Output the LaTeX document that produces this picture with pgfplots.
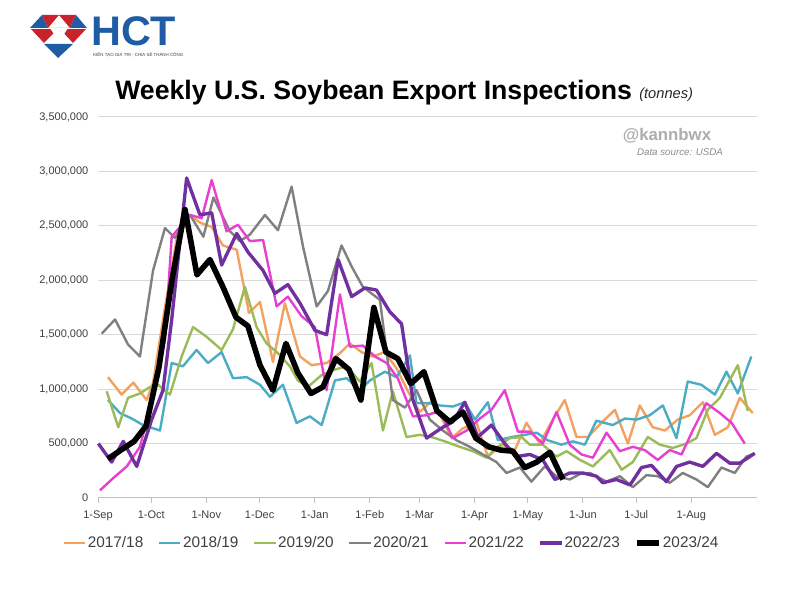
\documentclass[border=0pt]{standalone}
\usepackage{fontspec}
\setmainfont{Liberation Sans}
\usepackage{pgfplots}
\pgfplotsset{compat=1.18}
\definecolor{c17}{HTML}{F2A15F}
\definecolor{c18}{HTML}{4BACC6}
\definecolor{c19}{HTML}{9BBB59}
\definecolor{c20}{HTML}{808080}
\definecolor{c21}{HTML}{E83FD0}
\definecolor{c22}{HTML}{7030A0}
\definecolor{gridgray}{HTML}{D9D9D9}
\definecolor{axisgray}{HTML}{BFBFBF}
\definecolor{tickgray}{HTML}{404040}
\definecolor{logoRed}{HTML}{C8232C}
\definecolor{logoBlue}{HTML}{1F5CA6}
\begin{document}
\begin{tikzpicture}
\fill[white] (0,0) rectangle (600pt,450pt);
\begin{scope}[x=0.75pt,y=-0.75pt,yshift=450pt]
% logo
\fill[logoBlue] (30,28) -- (42,15) -- (48,28) -- cycle;
\fill[logoRed] (42,15) -- (59,15) -- (48,28) -- cycle;
\fill[logoRed] (59,15) -- (76,15) -- (70,28) -- cycle;
\fill[logoBlue] (76,15) -- (87,28) -- (70,28) -- cycle;
\fill[logoRed] (30,28) -- (59,28) -- (44,43) -- cycle;
\fill[logoRed] (59,28) -- (87,28) -- (73,43) -- cycle;
\fill[white] (50,28) -- (68,28) -- (59,42) -- cycle;
\fill[logoBlue] (44,44) -- (73,44) -- (58,58) -- cycle;
\draw[white, line width=0.5pt] (30,28) -- (87,28);
\node[anchor=base west, inner sep=0, text depth=0pt, text=logoBlue, font=\fontsize{31}{32}\selectfont\bfseries] at (91,46) {HCT};
\node[anchor=base west, inner sep=0, text=tickgray, font=\fontsize{3.3}{4}\selectfont] at (93,57) {KIẾN TẠO GIÁ TRỊ - CHIA SẺ THÀNH CÔNG};
% titles
\node[anchor=base west, inner sep=0, font=\fontsize{20}{24}\selectfont\bfseries] at (115,100) {Weekly U.S. Soybean Export Inspections};
\node[anchor=base west, inner sep=0, text=black!85, font=\fontsize{11}{13}\selectfont\itshape] at (639,99) {(tonnes)};
\node[inner sep=0, text=black!32, font=\fontsize{12.6}{14}\selectfont\bfseries] at (667,136) {@kannbwx};
\node[inner sep=0, text=black!45, font=\fontsize{7.3}{9}\selectfont\itshape] at (680,152) {Data source: USDA};
\end{scope}
\begin{axis}[
  at={(73.5pt,76.5pt)}, anchor=south west,
  scale only axis, width=494.25pt, height=285.75pt,
  xmin=0, xmax=371, ymin=0, ymax=3500000,
  axis x line*=bottom, axis y line*=left,
  x axis line style={draw=axisgray, line width=0.75pt},
  y axis line style={draw=none},
  ytick={0,500000,1000000,1500000,2000000,2500000,3000000,3500000},
  scaled y ticks=false,
  /pgf/number format/fixed,
  /pgf/number format/1000 sep={,},
  /pgf/number format/assume math mode=true,
  yticklabel style={font=\fontsize{8.25}{10}\selectfont, text=tickgray},
  ymajorgrids, grid style={draw=gridgray, line width=0.75pt},
  ytick style={draw=none},
  xtick={0,30,61,91,122,153,181,212,242,273,303,334},
  xticklabels={1-Sep,1-Oct,1-Nov,1-Dec,1-Jan,1-Feb,1-Mar,1-Apr,1-May,1-Jun,1-Jul,1-Aug},
  xticklabel style={font=\fontsize{8.25}{10}\selectfont, text=tickgray, yshift=-2pt, text height=6pt, text depth=1.8pt},
  xtick style={draw=axisgray, line width=0.75pt},
  tick align=outside, major tick length=3.75pt,
  clip=false,
  legend columns=7,
  legend style={at={(0.445,-0.118)}, anchor=center, draw=none, fill=none,
    font=\fontsize{11.5}{14}\selectfont, text=tickgray,
    /tikz/every even column/.append style={column sep=10pt},
    nodes={inner xsep=1pt}},
  legend image code/.code={\draw[#1, line cap=butt] (0pt,0pt) -- (16pt,0pt);},
  every axis plot/.append style={line join=round, mark=none},
]
\addplot[c17, line width=1.8pt] coordinates {(5.6,1110000)(13.3,950000)(19.9,1060000)(27.4,900000)(31.0,1060000)(37.7,1750000)(45.0,2450000)(51.8,2600000)(57.4,2530000)(64.0,2490000)(70.3,2320000)(78.1,2280000)(85.0,1700000)(91.2,1800000)(98.5,1250000)(105.2,1790000)(113.7,1300000)(120.3,1220000)(128.7,1240000)(136.2,1330000)(141.8,1420000)(148.4,1340000)(154.8,1300000)(161.5,1340000)(168.1,1190000)(174.5,980000)(181.2,790000)(188.5,900000)(199.1,550000)(205.4,640000)(213.1,690000)(219.5,380000)(227.2,490000)(234.7,440000)(241.2,690000)(248.7,500000)(256.0,720000)(262.8,900000)(269.4,560000)(275.8,560000)(283.4,690000)(291.0,810000)(298.3,500000)(305.0,850000)(312.3,650000)(319.1,620000)(326.4,720000)(333.1,760000)(340.5,880000)(347.3,580000)(354.6,650000)(361.3,920000)(368.6,780000)};
\addlegendentry{2017/18}
\addplot[c18, line width=1.8pt] coordinates {(5.6,900000)(12.4,780000)(19.0,730000)(25.3,670000)(31.0,640000)(34.9,620000)(41.5,1240000)(47.8,1210000)(55.5,1360000)(61.9,1240000)(69.6,1340000)(76.0,1100000)(83.7,1110000)(91.2,1040000)(96.8,930000)(104.1,1040000)(111.8,690000)(119.3,750000)(125.9,670000)(133.4,1080000)(140.0,1100000)(147.4,990000)(153.1,1080000)(161.5,1160000)(168.1,1110000)(175.6,1310000)(179.3,870000)(186.8,870000)(192.5,850000)(199.8,840000)(206.5,880000)(212.2,720000)(219.5,880000)(225.1,530000)(232.8,560000)(240.3,580000)(246.9,600000)(253.2,530000)(260.9,490000)(267.3,520000)(274.1,490000)(280.6,710000)(289.8,670000)(296.6,730000)(303.2,720000)(310.6,760000)(318.0,850000)(325.7,550000)(332.0,1070000)(339.7,1040000)(347.3,950000)(353.8,1160000)(360.2,960000)(367.8,1300000)};
\addlegendentry{2018/19}
\addplot[c19, line width=1.8pt] coordinates {(4.9,980000)(11.4,650000)(16.9,920000)(23.6,960000)(29.3,1020000)(33.8,1040000)(40.5,950000)(47.1,1300000)(53.5,1570000)(61.2,1480000)(69.6,1360000)(76.0,1550000)(82.7,1940000)(89.3,1570000)(94.9,1420000)(101.3,1330000)(108.0,1210000)(112.5,1080000)(118.2,1020000)(125.9,1130000)(133.4,1180000)(140.0,1210000)(147.4,1070000)(154.0,1240000)(160.4,620000)(166.0,980000)(173.7,560000)(181.2,580000)(187.8,560000)(195.3,520000)(203.7,470000)(211.0,430000)(218.8,370000)(224.3,460000)(231.9,550000)(238.4,560000)(243.1,490000)(250.4,490000)(258.1,380000)(263.8,430000)(271.3,350000)(278.6,290000)(288.1,440000)(294.8,260000)(301.1,330000)(309.5,560000)(316.3,490000)(323.6,460000)(331.3,500000)(336.9,550000)(343.3,810000)(350.1,920000)(360.2,1220000)(365.8,800000)};
\addlegendentry{2019/20}
\addplot[c20, line width=1.8pt] coordinates {(2.1,1510000)(9.6,1640000)(16.9,1410000)(23.6,1300000)(31.0,2090000)(37.7,2480000)(43.3,2390000)(51.8,2600000)(59.3,2400000)(65.0,2760000)(74.3,2450000)(79.9,2360000)(85.5,2420000)(94.0,2600000)(101.3,2460000)(109.0,2860000)(115.4,2310000)(123.1,1760000)(129.4,1900000)(137.1,2320000)(143.0,2120000)(149.1,1940000)(158.7,1820000)(166.0,900000)(172.8,830000)(179.3,990000)(186.8,720000)(194.1,620000)(201.9,530000)(209.3,470000)(216.7,400000)(224.3,330000)(230.0,230000)(237.5,280000)(244.0,150000)(251.5,290000)(258.1,200000)(265.6,170000)(271.3,220000)(276.9,230000)(286.3,150000)(293.8,200000)(301.1,100000)(308.8,210000)(315.1,200000)(321.9,140000)(329.2,230000)(336.9,170000)(343.3,100000)(351.0,280000)(358.5,230000)(365.0,380000)(369.7,410000)};
\addlegendentry{2020/21}
\addplot[c21, line width=1.8pt] coordinates {(1.1,70000)(8.4,180000)(16.2,290000)(23.6,470000)(30.4,900000)(37.7,1450000)(41.5,2400000)(51.8,2600000)(58.4,2570000)(64.0,2920000)(72.4,2450000)(78.8,2510000)(85.5,2360000)(92.9,2370000)(100.6,1760000)(106.9,1850000)(114.6,1670000)(122.1,1570000)(128.7,990000)(136.2,1870000)(141.8,1390000)(149.1,1400000)(155.9,1300000)(162.5,1240000)(168.8,1100000)(177.3,750000)(185.0,760000)(192.5,800000)(199.8,550000)(207.5,620000)(215.0,730000)(221.5,810000)(229.0,990000)(236.4,610000)(243.1,610000)(250.4,500000)(258.1,790000)(265.6,490000)(272.2,400000)(278.6,370000)(286.3,600000)(293.8,430000)(301.1,470000)(307.8,440000)(315.1,350000)(321.9,440000)(328.5,400000)(334.8,620000)(342.5,870000)(350.1,780000)(356.7,690000)(364.1,500000)};
\addlegendentry{2021/22}
\addplot[c22, line width=2.5pt] coordinates {(0.2,500000)(7.7,330000)(14.2,520000)(21.8,290000)(30.2,720000)(36.6,990000)(41.5,1640000)(49.9,2940000)(57.4,2600000)(64.0,2620000)(69.6,2140000)(78.1,2430000)(84.4,2260000)(92.9,2090000)(99.6,1880000)(106.9,1960000)(113.7,1790000)(122.1,1540000)(128.7,1500000)(135.2,2190000)(142.8,1850000)(150.3,1930000)(156.8,1910000)(164.3,1710000)(170.9,1600000)(177.3,900000)(185.0,550000)(194.1,650000)(199.8,700000)(206.5,880000)(213.8,560000)(221.5,670000)(229.0,500000)(235.6,380000)(243.1,400000)(250.4,350000)(257.2,170000)(265.6,230000)(273.0,230000)(280.6,200000)(284.2,140000)(291.9,170000)(299.5,120000)(306.0,280000)(311.6,300000)(320.0,150000)(325.7,290000)(333.1,330000)(340.5,290000)(348.2,410000)(355.7,320000)(361.3,320000)(369.7,410000)};
\addlegendentry{2022/23}
\addplot[black, line width=4.2pt] coordinates {(5.6,360000)(12.9,440000)(20.3,520000)(27.0,660000)(34.3,1200000)(41.6,2000000)(49.0,2650000)(55.7,2050000)(63.0,2190000)(70.3,1940000)(77.7,1660000)(84.4,1580000)(91.2,1220000)(98.5,990000)(105.8,1420000)(112.5,1150000)(119.9,960000)(126.6,1020000)(133.9,1280000)(141.3,1180000)(148.0,900000)(155.3,1750000)(162.1,1340000)(168.8,1280000)(176.1,1050000)(183.5,1160000)(190.8,800000)(198.1,700000)(205.4,790000)(212.7,550000)(220.0,470000)(226.8,440000)(233.5,430000)(240.3,280000)(247.0,330000)(254.4,420000)(261.7,170000)};
\addlegendentry{2023/24}
\end{axis}
\end{tikzpicture}
\end{document}
